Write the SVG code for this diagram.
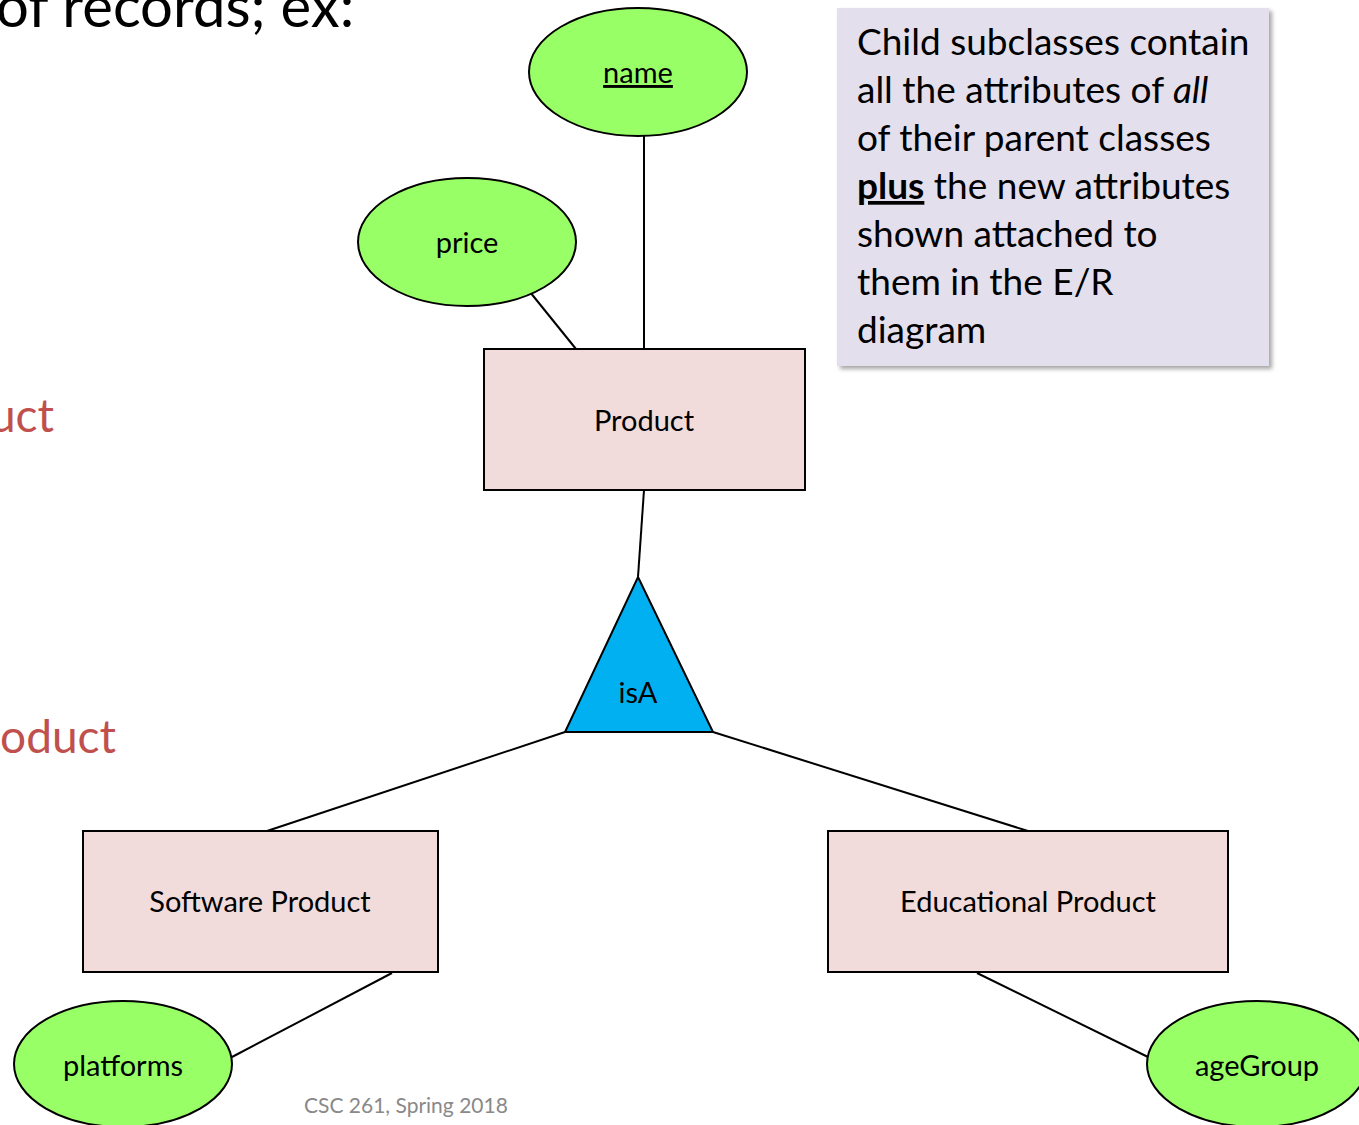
<svg xmlns="http://www.w3.org/2000/svg" width="1359" height="1125" viewBox="0 0 1359 1125">
<style>
text{font-family:Lato,"Open Sans","Liberation Sans",sans-serif;fill:#000}
.attr{fill:#99ff66;stroke:#000;stroke-width:2}
.ent{fill:#f2dcdb;stroke:#000;stroke-width:2}
.lbl{font-size:29px;text-anchor:middle}
.edge{stroke:#000;stroke-width:2;fill:none}
.big{font-size:46px}
.red{fill:#c0504d}
.note{font-size:37px}
</style>
<defs>
<filter id="sh" x="-5%" y="-5%" width="115%" height="115%">
<feDropShadow dx="3" dy="3" stdDeviation="2" flood-color="#000" flood-opacity="0.35"/>
</filter>
</defs>
<rect width="1359" height="1125" fill="#fff"/>
<text class="big" x="-4" y="27" style="font-size:58px">of records; ex:</text>
<text class="big red" x="54" y="432" text-anchor="end">uct</text>
<text class="big red" x="116" y="753" text-anchor="end">oduct</text>
<g id="connectors">
<line class="edge" x1="644" y1="136" x2="644" y2="349"/>
<line class="edge" x1="530" y1="292" x2="576" y2="349"/>
<line class="edge" x1="644" y1="490" x2="638" y2="577"/>
<line class="edge" x1="565" y1="732" x2="267" y2="831"/>
<line class="edge" x1="713" y1="732" x2="1028" y2="831"/>
<line class="edge" x1="392" y1="973" x2="232" y2="1057"/>
<line class="edge" x1="977" y1="973" x2="1148" y2="1057"/>
</g>
<g id="name">
<ellipse class="attr" cx="638" cy="72" rx="109" ry="64"/>
<text class="lbl" x="638" y="83" text-decoration="underline">name</text>
</g>
<g id="price">
<ellipse class="attr" cx="467" cy="242" rx="109" ry="64"/>
<text class="lbl" x="467" y="253">price</text>
</g>
<g id="product">
<rect class="ent" x="484" y="349" width="321" height="141"/>
<text class="lbl" x="644" y="431">Product</text>
</g>
<g id="isA">
<polygon points="638,577 713,732 565,732" fill="#00b0f0" stroke="#000" stroke-width="2"/>
<text class="lbl" x="638" y="703">isA</text>
</g>
<g id="software">
<rect class="ent" x="83" y="831" width="355" height="141"/>
<text class="lbl" x="260" y="912">Software Product</text>
</g>
<g id="educational">
<rect class="ent" x="828" y="831" width="400" height="141"/>
<text class="lbl" x="1028" y="912">Educational Product</text>
</g>
<g id="platforms">
<ellipse class="attr" cx="123" cy="1064" rx="109" ry="63"/>
<text class="lbl" x="123" y="1076">platforms</text>
</g>
<g id="ageGroup">
<ellipse class="attr" cx="1257" cy="1064" rx="110" ry="63"/>
<text class="lbl" x="1257" y="1076">ageGroup</text>
</g>
<g id="note">
<rect x="837" y="8" width="432" height="358" fill="#e4dfec" filter="url(#sh)"/>
<text class="note" x="857" y="55">Child subclasses contain</text>
<text class="note" x="857" y="103">all the attributes of <tspan font-style="italic">all</tspan></text>
<text class="note" x="857" y="151">of their parent classes</text>
<text class="note" x="857" y="199"><tspan font-weight="bold" text-decoration="underline">plus</tspan> the new attributes</text>
<text class="note" x="857" y="247">shown attached to</text>
<text class="note" x="857" y="295">them in the E/R</text>
<text class="note" x="857" y="343">diagram</text>
</g>
<text x="304" y="1113" font-size="21" style="fill:#898989">CSC 261, Spring 2018</text>
</svg>
